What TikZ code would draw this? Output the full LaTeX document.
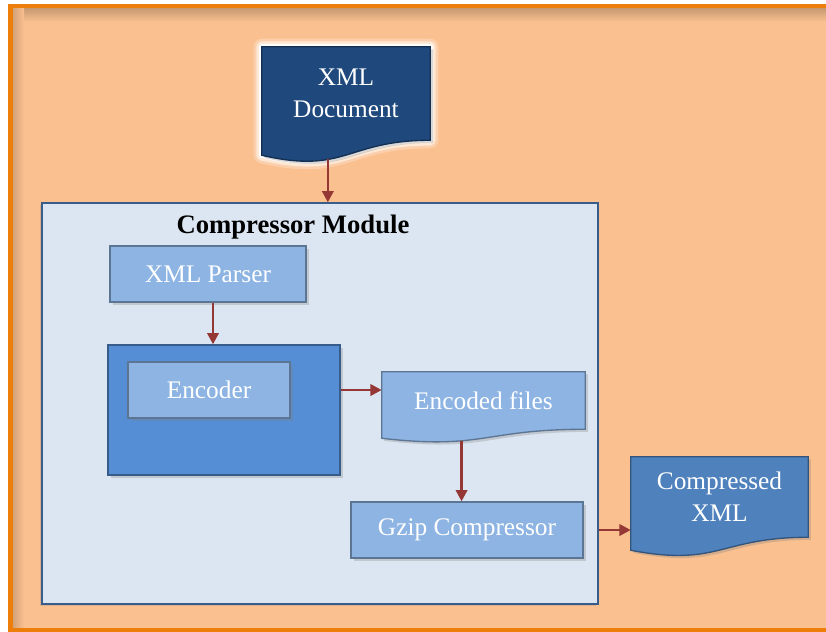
\documentclass[tikz,border=0pt]{standalone}
\usepackage{fontspec}
\setmainfont{Liberation Serif}
\usetikzlibrary{arrows.meta,calc,shadows}

\definecolor{pageorange}{HTML}{FAC08F}
\definecolor{edgeorange}{HTML}{EE7E0A}
\definecolor{modfill}{HTML}{DCE6F2}
\definecolor{modedge}{HTML}{385D8A}
\definecolor{lightblue}{HTML}{8DB4E2}
\definecolor{midblue}{HTML}{558ED5}
\definecolor{darkblue}{HTML}{1F497D}
\definecolor{steelblue}{HTML}{4F81BD}
\definecolor{arrowred}{HTML}{953735}

\pgfdeclarelayer{back}
\pgfdeclarelayer{docs}
\pgfsetlayers{back,docs,main}

% page outline of node #2 with a wavy lower edge, #3 = extra depth of the wave
\newcommand\docpath[3]{%
  \path[#1] (#2.north west) -- (#2.north east) -- (#2.south east)
    .. controls (#2.south) and ($(#2.south)+(0,2.3*#3)$) .. ($(#2.south west)+(0,#3)$)
    coordinate[pos=0.64] (#2-low) -- cycle;}

\tikzset{
  arr/.style={draw=arrowred, line width=2pt, -{Triangle[length=8.5pt,width=8.5pt]}},
  txt/.style={text=white, align=center, font=\fontsize{19}{24}\selectfont, inner sep=0pt},
  box/.style={txt, draw=#1!65!black, fill=#1, line width=1pt,
    drop shadow={opacity=0.3, shadow xshift=2pt, shadow yshift=-2pt}},
  docshape/.style={fill=#1, draw=#1!65!black, line width=1pt,
    drop shadow={opacity=0.3, shadow xshift=2pt, shadow yshift=-2pt}},
}

\begin{document}
\begin{tikzpicture}[x=0.75pt,y=-0.75pt]
  \useasboundingbox (0,0) rectangle (826,632);
  \clip (0,0) rectangle (826,632);

  \begin{pgfonlayer}{back}
    \fill[white] (0,0) rectangle (826,632);
    \draw[line width=3.75pt, draw=edgeorange, fill=pageorange] (10.5,6) rectangle (850,630);
    % soft inner shadow under the top and left edge
    \shade[top color=pageorange!80!black, bottom color=pageorange] (13,8.5) rectangle (826,22);
    \shade[left color=pageorange!85!black, right color=pageorange] (13,8.5) rectangle (24,627);
    \node[draw=modedge, fill=modfill, line width=1pt, minimum width=417pt, minimum height=300.75pt, inner sep=0pt,
      drop shadow={opacity=0.25, shadow xshift=-1.5pt, shadow yshift=-1.5pt}] (module) at (320,403.5) {};
  \end{pgfonlayer}
  \node[font=\bfseries\fontsize{20}{24}\selectfont] (title) at (293,227) {Compressor Module};

  % input and output documents
  \node[txt, minimum width=126pt, minimum height=69.75pt] (xmldoc) at (346,93.5) {XML\\Document};
  \node[txt, minimum width=152.25pt, minimum height=42.75pt] (encfiles) at (483.5,400.5) {Encoded files};
  \node[txt, minimum width=132.75pt, minimum height=60pt] (cxml) at (719.5,497) {Compressed\\XML};

  % stages of the module
  \node[box=lightblue, minimum width=147pt, minimum height=42pt] (parser) at (208,274) {XML Parser};
  \node[box=midblue, minimum width=174pt, minimum height=97.5pt] (encbox) at (224,410) {};
  \node[box=lightblue, minimum width=121.5pt, minimum height=42pt] (encoder) at (209,390) {Encoder};
  \node[box=lightblue, minimum width=174pt, minimum height=42pt] (gzip) at (467,530) {Gzip Compressor};

  \begin{pgfonlayer}{docs}
    \foreach \w/\o in {12pt/0.25,8pt/0.5,4pt/1}{
      \docpath{draw=white, line width=\w, opacity=\o, line join=round}{xmldoc}{15}
    }
    \docpath{docshape=darkblue}{xmldoc}{15}
    \docpath{docshape=lightblue}{encfiles}{9}
    \docpath{docshape=steelblue}{cxml}{13}
  \end{pgfonlayer}

  \draw[arr] (xmldoc-low) -- (xmldoc-low |- module.north);
  \draw[arr] ([xshift=3.75pt]parser.south) -- ([xshift=3.75pt]parser.south |- encbox.north);
  \draw[arr] (encbox.east |- encoder) -- (encoder -| encfiles.west);
  \draw[arr] (encfiles-low) -- (encfiles-low |- gzip.north);
  \draw[arr] (gzip -| module.east) -- (gzip -| cxml.west);
\end{tikzpicture}
\end{document}
